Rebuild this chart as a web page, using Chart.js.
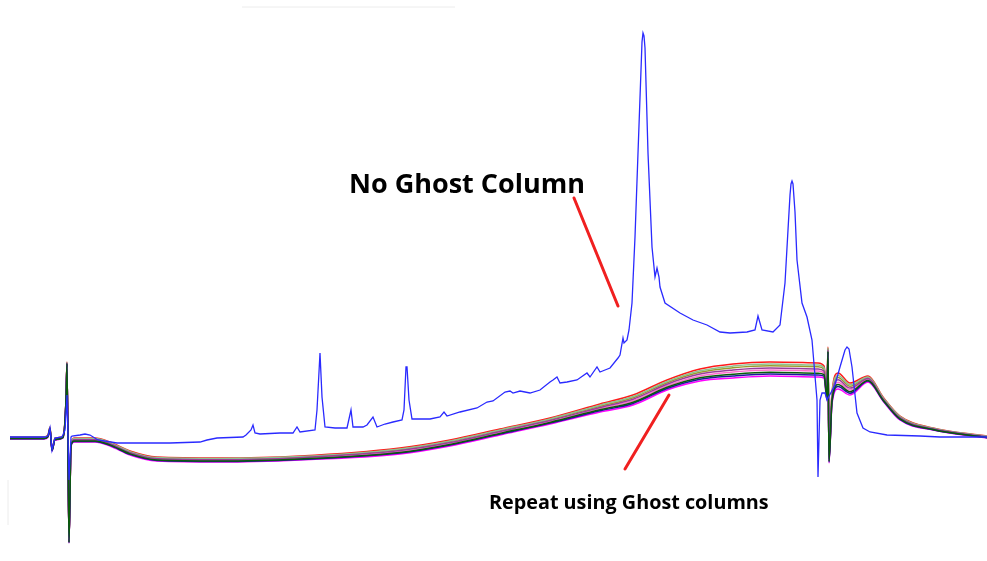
<!DOCTYPE html>
<html>
<head>
<meta charset="utf-8">
<title>Ghost column chromatograms</title>
<script src="https://cdn.jsdelivr.net/npm/chart.js@4.4.1/dist/chart.umd.min.js"></script>
<style>
  html, body { margin: 0; padding: 0; background: #fff; }
  #wrap { position: relative; width: 987px; height: 561px; }
</style>
</head>
<body>
<div id="wrap"><canvas id="chrom"></canvas></div>
<script>
// ── Data (time in px-like units, signal in mAU-like units) ─────────────────
// Blue trace: run without ghost column
const blueTime = [10, 45, 48, 50, 52, 55, 62, 65, 67, 69, 71, 72, 80, 85, 90, 98, 117, 170, 200, 207, 217, 243, 246, 251, 253, 255, 260, 280, 293, 297, 300, 315, 317, 320, 322, 325, 335, 347, 351, 353, 363, 367, 373, 377, 385, 393, 402, 404, 406, 407, 409, 412, 430, 440, 444, 447, 460, 477, 487, 493, 505, 510, 513, 520, 530, 540, 550, 553, 557, 560, 567, 577, 587, 590, 597, 600, 605, 610, 618, 620, 623, 624, 627, 629, 632, 635, 638, 641, 642, 643, 644, 645, 648, 652, 655, 657, 659, 660, 665, 680, 693, 707, 720, 730, 747, 755, 758, 762, 773, 780, 785, 788, 790, 791, 792, 793, 795, 797, 802, 807, 812, 817, 818, 820, 822, 825, 827, 835, 840, 845, 847, 849, 852, 857, 863, 870, 887, 920, 940, 987];
const blueSignal = [3, 3, 4, 12, -10, 2, 3, 10, 45, -40, 3, 4, 5, 6, 5, 0, -3, -3, -2, 0, 2, 3, 5, 10, 15, 7, 6, 7, 7, 13, 8, 10, 30, 87, 43, 13, 12, 12, 30, 13, 13, 15, 23, 13, 16, 18, 20, 30, 73, 73, 40, 21, 21, 23, 28, 24, 28, 32, 38, 39, 48, 49, 47, 49, 47, 50, 58, 60, 63, 57, 58, 60, 67, 63, 73, 68, 70, 72, 82, 85, 102, 97, 100, 110, 137, 203, 287, 370, 398, 407, 404, 392, 287, 193, 163, 172, 163, 153, 137, 127, 120, 115, 108, 107, 108, 110, 124, 110, 108, 115, 157, 210, 245, 256, 259, 256, 228, 180, 137, 123, 100, 40, -37, 40, 47, 47, 40, 55, 73, 90, 93, 91, 73, 27, 12, 8, 5, 4, 3, 3];

// Ghost column repeats, all sampled at the same times
const ghostTime = [10, 44, 48, 50, 52, 55, 63, 66, 67, 69, 71, 74, 95, 110, 130, 157, 220, 300, 400, 450, 500, 550, 600, 633, 667, 700, 733, 770, 818, 824, 827, 828, 829, 832, 838, 850, 868, 883, 900, 933, 987];
const ghostRun1 = [3, 3, 5, 13, -9, 2, 4, 41, 78, -101, -4, 2, 2, -2, -11, -17, -18, -16, -8, 0, 11, 22, 36, 45, 60, 71, 76, 78, 77, 74, 50, 93, -17, 48, 67, 57, 64, 43, 24, 12, 4];
const ghostRun2 = [2.7, 2.7, 4.7, 12.7, -9.3, 1.7, 3.7, 40.7, 77.7, -101.3, -4.3, 1.4, 1.4, -2.6, -11.6, -17.6, -18.6, -16.6, -8.9, -0.9, 10.1, 21.1, 34.8, 43.5, 58.5, 69.2, 73.9, 75.9, 74.9, 72.2, 48.5, 92.1, -17.9, 46.2, 64.6, 55.2, 63.1, 42.4, 23.4, 11.7, 3.7];
const ghostRun3 = [2.5, 2.5, 4.5, 12.5, -9.5, 1.5, 3.5, 40.5, 77.5, -101.5, -4.5, 0.9, 0.9, -3.1, -12.1, -18.1, -19.1, -17.1, -9.6, -1.6, 9.4, 20.4, 33.8, 42.3, 57.3, 67.7, 72.2, 74.2, 73.2, 70.7, 47.3, 91.4, -18.6, 44.7, 62.6, 53.7, 62.4, 41.9, 22.9, 11.5, 3.5];
const ghostRun4 = [2.2, 2.2, 4.2, 12.2, -9.8, 1.2, 3.2, 40.2, 77.2, -101.8, -4.8, 0.3, 0.3, -3.7, -12.7, -18.7, -19.7, -17.7, -10.6, -2.6, 8.5, 19.5, 32.6, 40.8, 55.8, 65.9, 70.1, 72.1, 71.1, 68.9, 45.8, 90.5, -19.5, 42.9, 60.2, 51.9, 61.5, 41.3, 22.3, 11.2, 3.2];
const ghostRun5 = [1.8, 1.8, 3.8, 11.8, -10.2, 0.8, 2.8, 39.8, 76.8, -102.2, -5.2, -0.3, -0.3, -4.3, -13.3, -19.3, -20.3, -18.3, -11.5, -3.5, 7.5, 18.5, 31.4, 39.2, 54.2, 64.1, 68, 70, 69, 67.1, 44.2, 89.5, -20.5, 41.1, 57.8, 50.1, 60.5, 40.7, 21.7, 10.8, 2.8];
const ghostRun6 = [1.5, 1.5, 3.5, 11.5, -10.5, 0.5, 2.5, 39.5, 76.5, -102.5, -5.5, -0.9, -0.9, -4.9, -13.9, -19.9, -20.9, -18.9, -12.4, -4.4, 6.6, 17.6, 30.2, 37.7, 52.7, 62.3, 65.8, 67.8, 66.8, 65.3, 42.7, 88.6, -21.4, 39.3, 55.4, 48.3, 59.6, 40.1, 21.1, 10.5, 2.5];
const ghostRun7 = [1.3, 1.3, 3.3, 11.3, -10.7, 0.3, 2.3, 39.3, 76.3, -102.7, -5.7, -1.4, -1.4, -5.4, -14.4, -20.4, -21.4, -19.4, -13.1, -5.1, 5.9, 16.9, 29.2, 36.5, 51.5, 60.8, 64.1, 66.1, 65.1, 63.8, 41.5, 87.9, -22.1, 37.8, 53.4, 46.8, 58.9, 39.6, 20.6, 10.3, 2.3];
const ghostRun8 = [1, 1, 3, 11, -11, 0, 2, 39, 76, -103, -6, -2, -2, -6, -15, -21, -22, -20, -14, -6, 5, 16, 28, 35, 50, 59, 62, 64, 63, 62, 40, 87, -23, 36, 51, 45, 58, 39, 20, 10, 2];
const ghostRuns = [ghostRun1, ghostRun2, ghostRun3, ghostRun4, ghostRun5, ghostRun6, ghostRun7, ghostRun8];
const ghostColors = ['#ff1a1a', '#8fc08f', '#9a9a2e', '#9a3d9a', '#ff6fcf', '#0b5a0b', '#1a1a9c', '#ff00ff'];
// drawing order: lower number ends up on top
const ghostOrder = [8, 5, 7, 4, 6, 1, 2, 3];

// Annotation text
const labelNoGhost = 'No Ghost Column';
const labelGhost = 'Repeat using Ghost columns';

// ── Build datasets ─────────────────────────────────────────────────────────
const toPoints = (xs, ys) => xs.map((x, i) => ({ x: x, y: ys[i] }));

const datasets = [{
    label: 'No Ghost Column',
    data: toPoints(blueTime, blueSignal),
    borderColor: '#2a2aff',
    borderWidth: 1.3,
    pointRadius: 0,
    tension: 0,
    order: 0,
    fill: false
}];
ghostRuns.forEach((run, i) => {
    datasets.push({
        label: 'Ghost run ' + (i + 1),
        data: toPoints(ghostTime, run),
        borderColor: ghostColors[i],
        borderWidth: 1.5,
        pointRadius: 0,
        cubicInterpolationMode: 'monotone',
        order: ghostOrder[i],
        fill: false
    });
});

// ── Annotations drawn after the chart ──────────────────────────────────────
const annotationPlugin = {
    id: 'annotations',
    afterDraw(chart) {
        const c = chart.ctx;
        const xs = chart.scales.x, ys = chart.scales.y;
        const px = v => xs.getPixelForValue(v), py = v => ys.getPixelForValue(v);
        c.save();
        // faint frame remnants
        c.strokeStyle = '#ececec';
        c.lineWidth = 1;
        c.beginPath();
        c.moveTo(px(242), py(433)); c.lineTo(px(455), py(433));
        c.moveTo(px(8), py(-40)); c.lineTo(px(8), py(-85));
        c.stroke();
        // pointer lines
        c.strokeStyle = '#f02020';
        c.lineWidth = 3;
        c.lineCap = 'round';
        c.beginPath();
        c.moveTo(px(574), py(242)); c.lineTo(px(618), py(134));
        c.moveTo(px(625), py(-29)); c.lineTo(px(669), py(45));
        c.stroke();
        // labels
        c.fillStyle = '#000';
        c.textBaseline = 'alphabetic';
        c.font = 'bold 27px "Open Sans"';
        c.fillText(labelNoGhost, px(349), py(247));
        c.font = 'bold 19.8px "Open Sans"';
        c.fillText(labelGhost, px(489), py(-69));
        c.restore();
    }
};

new Chart(document.getElementById('chrom'), {
    type: 'line',
    data: { datasets: datasets },
    options: {
        responsive: true,
        maintainAspectRatio: false,
        animation: false,
        layout: { padding: 0 },
        plugins: { legend: { display: false }, tooltip: { enabled: false } },
        scales: {
            x: { type: 'linear', min: 0, max: 987, display: false },
            y: { min: -121, max: 440, display: false }
        }
    },
    plugins: [annotationPlugin]
});
</script>
</body>
</html>
